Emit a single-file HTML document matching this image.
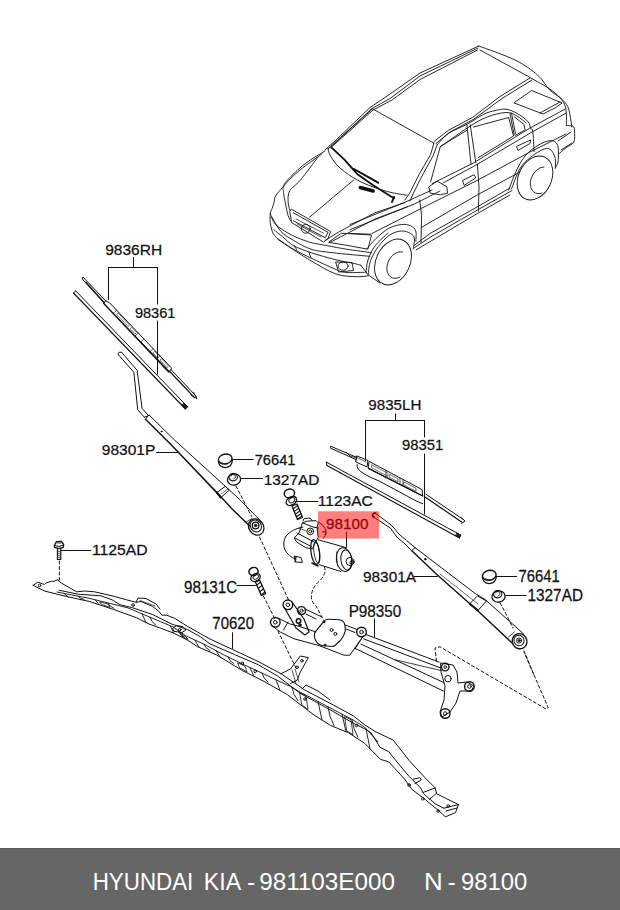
<!DOCTYPE html>
<html><head><meta charset="utf-8">
<style>
html,body{margin:0;padding:0;background:#fff;width:620px;height:910px;overflow:hidden}
svg{position:absolute;left:0;top:0}
.bar{position:absolute;left:0;top:848px;width:620px;height:62px;background:#666;border-top:1px solid #5c5c5c;box-sizing:border-box}
</style></head><body>
<div class="bar"></div>
<svg width="620" height="910" viewBox="0 0 620 910">
<g id="car" fill="none" stroke="#111" stroke-width="0.9" stroke-linejoin="round" stroke-linecap="round">
<path d="M325.0,150.0 L336.0,140.0 L370.0,107.5 L385.0,97.5 L420.0,73.0 L478.8,46.0"/>
<path d="M328.0,149.0 L372.0,108.5 L390.0,98.5 L420.0,76.0 L478.0,48.0"/>
<path d="M331.0,147.5 L373.0,110.0 L392.0,100.0 L420.0,79.5 L477.5,50.0"/>
<path d="M478.8,46.0 C484.8,48.3 505.2,55.2 515.0,60.0 C524.8,64.8 531.7,70.0 537.5,75.0 C543.3,80.0 545.9,86.1 549.8,90.0 C553.7,93.9 557.8,95.5 560.8,98.2 C563.8,101.0 566.1,103.3 567.7,106.5 C569.3,109.7 569.7,114.0 570.4,117.4 C571.1,120.8 571.6,125.4 571.8,127.0"/>
<path d="M480.0,50.0 C488.3,54.6 518.1,70.8 530.0,77.5 C541.9,84.2 545.6,85.9 551.2,90.0 C556.8,94.1 561.0,98.4 563.5,102.3 C566.0,106.2 565.8,109.4 566.3,113.3 C566.8,117.2 566.3,123.5 566.3,125.6"/>
<path d="M372.5,108.8 L433.9,143.2"/>
<path d="M372.5,108.8 L331.2,146.2"/>
<path d="M433.9,141.6 L448.4,130.3 L472.6,117.4 L500.0,96.5 L530.0,78.0"/>
<path d="M436.0,143.5 L450.0,132.0 L474.0,119.0 L502.0,98.5 L532.0,80.0"/>
<path d="M514.2,103.0 L543.0,114.0 L555.3,107.8 L562.2,103.0 L532.0,90.7 Z"/>
<path d="M540.0,113.0 L560.0,102.0"/>
<path d="M433.9,143.2 L430.6,154.5 L419.4,173.9 L409.7,193.2 L404.8,200.0"/>
<path d="M437.1,144.8 L433.0,156.0 L422.0,176.0 L413.0,194.0 L410.0,201.0"/>
<path d="M437.1,144.8 C439.0,142.9 443.3,137.0 448.4,133.5 C453.5,130.0 461.8,127.1 467.7,123.9 C473.6,120.7 479.3,116.4 483.9,114.2 C488.4,112.0 491.3,111.4 495.0,110.6 C498.7,109.8 502.4,108.8 506.0,109.2 C509.6,109.7 513.2,111.2 516.9,113.3 C520.5,115.3 525.6,119.0 527.9,121.5 C530.2,124.0 529.8,126.8 530.6,128.4 C531.4,130.0 532.1,127.2 532.7,131.1 C533.3,135.0 533.9,148.3 534.1,151.7"/>
<path d="M430.6,181.9 L440.3,146.5 L466.9,130.3"/>
<path d="M440.0,147.0 C444.7,143.8 460.2,132.5 468.0,127.5 C475.8,122.5 480.7,119.5 487.0,117.0 C493.3,114.5 501.0,112.7 506.0,112.5 C511.0,112.3 513.7,114.2 517.0,116.0 C520.3,117.8 524.5,121.8 526.0,123.0"/>
<path d="M466.9,124.7 L471.0,164.2"/>
<path d="M470.2,124.7 L475.8,162.6"/>
<path d="M473.5,127.0 L508.7,117.5 L513.5,136.0 L478.5,157.5"/>
<path d="M510.0,113.5 L514.2,135.0"/>
<path d="M511.5,113.0 L515.6,134.0"/>
<path d="M514.2,116.7 L523.8,124.3 L525.2,129.8 L515.6,135.3"/>
<path d="M432.3,183.5 L474.2,162.6 L500.0,146.5 L529.3,128.4 L564.9,109.2"/>
<path d="M443.0,183.0 L474.2,166.0 L500.0,151.0 L532.0,132.0 L566.3,113.0"/>
<path d="M429.0,186.8 L437.1,181.1 L446.8,186.8 L447.6,193.2 L440.3,194.8 L430.6,193.2 Z"/>
<path d="M462.9,180.3 L474.2,174.7 L475.8,177.9 L464.5,185.2 Z"/>
<path d="M516.9,146.2 L530.6,140.0 L530.0,143.5 L518.3,150.3 Z"/>
<path d="M419.7,200.0 L421.6,215.5 L421.0,242.6"/>
<path d="M477.4,164.2 L479.0,187.0 L478.4,211.3"/>
<path d="M350.0,224.5 L404.2,202.6 L432.0,190.0"/>
<path d="M350.0,229.7 L414.5,203.9 L440.0,191.0"/>
<path d="M371.9,233.5 L430.0,204.0 L478.0,180.0 L530.0,152.0 L566.0,134.0"/>
<path d="M421.0,227.7 L477.4,194.8 L520.0,172.0"/>
<path d="M414.5,247.7 L430.0,237.4 L477.4,210.0 L512.0,190.5"/>
<path d="M414.5,245.2 L430.0,233.5 L477.0,207.0 L510.0,188.0"/>
<path d="M416.0,250.0 L477.4,213.5 L510.0,195.0"/>
<path d="M566.3,125.6 C567.4,125.7 571.7,125.4 573.1,126.3 C574.5,127.2 574.4,128.5 574.5,131.1 C574.6,133.7 575.2,139.3 573.8,142.1 C572.4,144.8 568.9,145.5 566.3,147.6 C563.7,149.7 559.5,153.3 558.1,154.4"/>
<path d="M558.0,141.0 L571.0,132.0"/>
<path d="M561.0,150.0 L572.0,143.0"/>
<path d="M508.7,190.1 C509.9,187.1 512.9,178.0 515.6,172.3 C518.4,166.6 521.3,160.4 525.2,155.8 C529.1,151.2 534.8,147.3 538.9,144.8 C543.0,142.3 547.1,141.1 549.8,140.7 C552.5,140.2 553.9,140.9 555.3,142.1 C556.7,143.2 557.6,144.4 558.1,147.6 C558.6,150.8 558.6,157.9 558.1,161.3 C557.6,164.7 555.8,167.0 555.3,168.1"/>
<path d="M511.5,189.0 C512.9,185.7 516.5,174.3 519.7,169.0 C522.9,163.7 526.5,160.5 530.6,157.2 C534.7,153.8 541.0,150.1 544.4,148.9 C547.8,147.8 549.4,148.7 551.2,150.3 C553.0,151.9 554.6,155.5 555.3,158.5 C556.0,161.5 555.3,166.5 555.3,168.1"/>
<ellipse cx="535" cy="178" rx="16.5" ry="23" transform="rotate(25 535 178)"/>
<path d="M544,167 A10,14 25 1 0 542,193"/>
<path d="M325.0,151.0 C321.7,153.1 311.2,158.9 305.0,163.8 C298.8,168.6 291.2,176.1 287.5,180.0 C283.8,183.9 284.7,184.4 282.7,187.1 C280.7,189.8 277.1,193.3 275.6,196.0 C274.1,198.7 274.5,201.0 273.9,203.1 C273.3,205.2 272.7,206.6 272.1,208.4 C271.5,210.2 270.6,211.3 270.3,213.7 C270.0,216.1 269.9,219.3 270.3,222.6 C270.8,225.8 271.5,230.2 273.0,233.2 C274.5,236.1 278.2,239.1 279.2,240.3"/>
<path d="M322.0,154.0 C318.3,156.7 306.2,164.8 300.0,170.0 C293.8,175.2 287.2,181.6 284.5,185.3 C281.8,189.0 283.5,189.4 283.6,192.4 C283.8,195.4 284.6,199.2 285.4,203.1 C286.1,206.9 287.2,212.6 288.1,215.5 C289.0,218.4 290.3,219.9 290.7,220.8"/>
<path d="M318.0,157.0 C315.1,160.8 305.2,174.4 300.5,180.0 C295.8,185.6 291.9,187.0 289.8,190.6 C287.7,194.2 288.1,198.0 288.1,201.3 C288.1,204.6 289.5,208.7 289.8,210.2"/>
<path d="M328.1,148.1 C328.4,149.2 328.1,151.6 329.7,154.5 C331.3,157.4 333.9,162.0 337.7,165.8 C341.5,169.6 347.2,173.9 352.3,177.1 C357.4,180.3 362.5,182.8 368.4,185.2 C374.3,187.6 381.8,190.0 387.7,191.6 C393.6,193.2 400.7,194.2 403.9,194.8 C407.1,195.4 406.5,195.0 407.0,195.0"/>
<path d="M331.3,147.3 L344.2,159.4 L357.1,173.9 L373.2,185.2 L391.0,196.5 L394.2,198.1" stroke-width="1.8"/>
<path d="M353.9,169.0 L368.4,177.1 L378.1,182.7" stroke-width="2"/>
<path d="M360.3,187.5 L373.2,191.0" stroke-width="3.5"/>
<path d="M394.0,197.0 L392.0,202.0" stroke-width="2"/>
<path d="M291.6,209.3 L330.6,231.5 L328.0,238.6 L323.5,242.1 L291.6,222.6 L289.8,211.9 Z"/>
<path d="M293.4,212.8 L328.0,232.3 L325.3,237.7 L293.4,220.8"/>
<path d="M296.0,219.0 L323.5,233.2" stroke-width="0.7"/>
<path d="M297.0,224.0 L321.0,237.0" stroke-width="0.7"/>
<circle cx="305.8" cy="228.8" r="4.4"/>
<path d="M353.7,180.0 L309.4,217.3"/>
<path d="M325.3,240.3 L339.5,231.5 L375.0,212.8 L405.0,202.5"/>
<path d="M330.6,242.1 L375.0,219.0 L407.0,207.0"/>
<path d="M270.3,213.7 C271.2,215.5 272.1,220.8 275.6,224.4 C279.2,228.0 286.0,232.1 291.6,235.0 C297.2,237.9 303.5,240.3 309.4,242.1 C315.3,243.9 320.9,244.4 327.1,245.6 C333.3,246.8 339.2,248.0 346.6,249.2 C354.0,250.4 367.4,252.1 371.5,252.7"/>
<path d="M272.1,217.3 C273.6,219.7 277.4,227.7 281.0,231.5 C284.6,235.3 288.4,237.4 293.4,240.3 C298.4,243.2 304.6,247.1 311.1,249.2 C317.6,251.3 322.6,251.5 332.4,252.7 C342.2,253.9 363.5,255.7 369.7,256.3"/>
<path d="M273.9,229.7 C275.4,230.9 279.4,234.2 282.7,236.8 C285.9,239.5 288.7,242.9 293.4,245.6 C298.1,248.2 304.0,250.3 311.1,252.7 C318.2,255.1 328.9,258.0 336.0,259.8 C343.1,261.6 349.6,262.5 353.7,263.4 C357.8,264.3 359.6,264.9 360.8,265.2"/>
<path d="M277.4,238.6 C280.1,240.4 287.8,245.9 293.4,249.2 C299.0,252.4 304.3,254.9 311.1,258.1 C317.9,261.4 328.6,266.3 334.2,268.7 C339.8,271.1 339.8,271.7 344.8,272.3 C349.8,272.9 361.1,272.3 364.4,272.3"/>
<path d="M279.2,240.3 C284.2,243.6 299.9,254.2 309.4,259.8 C318.9,265.4 328.0,271.2 336.0,274.0 C344.0,276.8 352.0,276.4 357.3,276.7 C362.6,277.0 366.1,275.9 367.9,275.8"/>
<path d="M294.0,245.5 L297.0,250.0"/>
<path d="M309.0,252.5 L311.0,258.0"/>
<ellipse cx="343.1" cy="266.1" rx="5" ry="4.2"/>
<path d="M336.0,262.0 L352.0,262.5 L353.5,270.5 L339.0,272.0 Z"/>
<path d="M328.9,242.1 L341.3,233.2 L371.5,235.0 L367.9,249.2 L348.4,245.6 Z"/>
<path d="M350.0,233.5 L370.6,234.2"/>
<path d="M366.8,249.0 C368.3,247.3 372.2,242.1 375.8,238.7 C379.4,235.3 384.4,230.8 388.7,228.4 C393.0,226.0 398.0,224.9 401.6,224.5 C405.2,224.1 408.2,224.7 410.6,225.8 C413.0,226.9 414.9,228.4 415.8,231.0 C416.7,233.6 415.8,239.6 415.8,241.3"/>
<path d="M368.1,274.8 C368.5,272.4 368.9,265.3 370.6,260.6 C372.3,255.9 375.2,250.8 378.4,246.5 C381.6,242.2 386.1,237.4 390.0,234.8 C393.9,232.2 398.2,231.2 401.6,231.0 C405.0,230.8 408.5,232.2 410.6,233.5 C412.8,234.8 414.1,236.1 414.5,238.7 C414.9,241.3 413.4,247.3 413.2,249.0"/>
<path d="M366.0,273.0 C366.3,270.8 366.5,264.5 368.0,260.0 C369.5,255.5 371.7,250.5 375.0,246.0 C378.3,241.5 385.8,235.2 388.0,233.0"/>
<ellipse cx="393" cy="262" rx="17" ry="24" transform="rotate(25 393 262)"/>
<path d="M402.5,252 A10,14 25 1 0 400,277"/>
<path d="M360.8,265.2 L368.0,274.8 L380.0,283.0"/>
</g>
<g fill="none" stroke="#111" stroke-width="1" stroke-linejoin="round" stroke-linecap="round">
<path d="M83.4,277.5 L105.8,301.1"/>
<path d="M83.1,280.1 L104.4,302.5"/>
<path d="M83.4,277.5 L82.1,277.6 L83.1,280.1"/>
<path d="M85.8,282.2 L104.1,302.8" stroke-width="1.4"/>
<path d="M106.0,301.0 L109.7,302.9 L171.5,368.0 L171.0,369.8 L169.4,371.3 L104.0,303.8 Z"/>
<path d="M104.0,303.8 L168.7,372.0" stroke-width="1.3"/>
<path d="M116.6,310.2 L113.1,313.5" stroke-width="0.7"/>
<path d="M138.3,333.0 L134.8,336.3" stroke-width="0.7"/>
<path d="M144.0,339.1 L140.5,342.4" stroke-width="0.7"/>
<path d="M153.2,348.7 L149.7,352.0" stroke-width="0.7"/>
<path d="M160.0,355.9 L156.5,359.2" stroke-width="0.7"/>
<path d="M118.3,313.1 L129.7,325.2 L128.2,326.6 L116.8,314.6 Z" stroke-width="0.6"/>
<path d="M132.0,327.6 L136.6,332.4 L135.1,333.8 L130.5,329.0 Z" stroke-width="0.6"/>
<path d="M154.9,351.7 L158.3,355.3 L156.8,356.7 L153.3,353.1 Z" stroke-width="0.6"/>
<path d="M161.7,358.9 L168.6,366.1 L167.1,367.6 L160.2,360.3 Z" stroke-width="0.6"/>
<path d="M171.1,369.7 L196.1,396.1"/>
<path d="M169.5,371.3 L194.5,397.6" stroke-width="1.3"/>
<path d="M193.7,392.6 L197.0,398.7 L191.1,395.1" stroke-width="1"/>
<path d="M75.7,290.9 L187.7,406.9"/>
<path d="M73.5,293.0 L185.5,409.0" stroke-width="1.1"/>
<path d="M75.7,290.9 L73.5,293.0"/>
<path d="M184.3,403.4 L187.7,406.9 L185.5,409.0 L182.1,405.5 Z" fill="#222"/>
<path d="M118.4,354.8 L133.9,372.3 L137.7,409.7 L144.5,417.3"/>
<path d="M121.6,352.3 L137.1,370.3 L142.1,408.5 L148.4,415.3"/>
<path d="M118.4,354.8 Q117,351.5 121.6,352.3"/>
<path d="M144.5,417.3 L149.4,415.3"/>
<path d="M145.5,419.2 L148.4,415.3"/>
<path d="M149.4,415.3 L174.5,440.0 L225.3,486.3 L240.0,499.8 L261.5,521.9"/>
<path d="M145.5,419.2 L170.0,443.4 L217.4,493.1 L232.1,508.9 L250.2,526.5" stroke-width="1.4"/>
<path d="M150.0,424.0 L177.9,452.0 L218.0,495.0" stroke-width="0.6"/>
<circle cx="161.5" cy="431.5" r="0.5" fill="#222"/>
<path d="M216.9,492.5 L225.3,486.3 L229.3,490.2 L220.8,497.6 Z"/>
<path d="M216.9,492.5 L220.8,497.6" stroke-width="2"/>
<path d="M221.0,494.0 L228.0,489.0" stroke-width="0.6"/>
<ellipse cx="256.2" cy="527" rx="7.3" ry="8.6" transform="rotate(-35 256.2 527)" stroke-width="1.3"/>
<ellipse cx="255.8" cy="526" rx="5.4" ry="6.2" transform="rotate(-35 255.8 526)"/>
<circle cx="255.6" cy="525.5" r="3.3" stroke-width="1.3"/>
<circle cx="255.6" cy="525.5" r="1.2" fill="#111"/>
<path d="M245.0,522.6 L251.8,518.7" stroke-width="0.8"/>
<ellipse cx="225.2" cy="459" rx="6.9" ry="4.9" transform="rotate(-12 225.2 459)" stroke-width="1.4"/>
<path d="M218.4,461 Q219,467.5 225.5,467.6 Q232,467 232.4,460" stroke-width="1.3"/>
<path d="M221,462.5 Q224,464.5 227,464" stroke-width="0.8"/>
<ellipse cx="234" cy="479.5" rx="6.6" ry="5.6" transform="rotate(-10 234 479.5)" stroke-width="1.3"/>
<ellipse cx="233.2" cy="477.2" rx="4.2" ry="3.6" transform="rotate(-10 233.2 477.2)" stroke-width="1.1"/>
<path d="M231.0,476.0 L232.5,474.5 L235.0,475.0 L235.5,477.5 L233.5,479.0" stroke-width="0.8"/>
<path d="M236,486 L251.8,516.8" stroke-dasharray="3,2.5"/>
<path d="M156.5,452.5 L177.9,452.5"/>
<path d="M232.5,459.5 L253.3,459.5"/>
<path d="M240.8,478.5 L262.6,478.5"/>
<path d="M330.8,446.3 L357.0,457.5"/>
<path d="M330.8,448.3 L357.0,460.0"/>
<path d="M330.8,446.3 Q329.5,447.3 330.8,448.3"/>
<path d="M357.0,456.0 L368.0,460.5 L367.0,467.0 L356.0,462.0 Z"/>
<path d="M358.0,458.0 L366.0,462.0" stroke-width="0.7"/>
<path d="M346.0,452.0 L350.0,456.0 L357.0,458.0" stroke-width="0.8"/>
<path d="M369.5,461.6 L422.1,489.6 L422.7,496.0 L368.5,468.4 Z"/>
<path d="M368.5,468.4 L422.7,496.0" stroke-width="1.3"/>
<path d="M372.0,464.9 L388.0,473.4 L388.0,476.4 L372.0,467.9 Z" stroke-width="0.6"/>
<path d="M390.0,474.5 L398.0,478.8 L398.0,481.8 L390.0,477.5 Z" stroke-width="0.6"/>
<path d="M404.0,482.0 L416.0,488.3 L416.0,491.3 L404.0,485.0 Z" stroke-width="0.6"/>
<path d="M386.0,470.4 L386.0,477.3" stroke-width="0.7"/>
<path d="M400.0,477.8 L400.0,484.5" stroke-width="0.7"/>
<path d="M403.0,479.4 L403.0,486.0" stroke-width="0.7"/>
<path d="M357,464.5 Q356,469.4 364.7,474.2 Q370,477.5 379.2,481 L415,500.3 Q419,502.5 422.7,503.7"/>
<path d="M426.0,494.3 L463.4,519.5"/>
<path d="M425.0,497.0 L462.0,522.2" stroke-width="1.2"/>
<path d="M461.0,517.5 L465.0,521.0 L461.5,523.5" stroke-width="1"/>
<path d="M326.3,462.1 L460.8,535.1"/>
<path d="M327.0,465.5 L459.5,538.0" stroke-width="1.1"/>
<path d="M326.3,462.1 L327.0,465.5"/>
<path d="M457.0,533.2 L460.8,535.1 L459.5,538.0 L456.0,536.0 Z" fill="#222"/>
<path d="M395.5,413.8 L395.5,420.5"/>
<path d="M365.5,420.5 L424.5,420.5"/>
<path d="M365.5,420.5 L365.5,460.8"/>
<path d="M424.5,420.5 L424.5,437.0"/>
<path d="M424.5,454.0 L424.5,514.0"/>
<path d="M133.5,257.5 L133.5,267.5"/>
<path d="M108.5,267.5 L157.5,267.5"/>
<path d="M108.5,267.5 L108.5,299.7"/>
<path d="M157.5,267.4 L157.5,304.0"/>
<path d="M157.5,321.0 L157.5,374.0"/>
<path d="M374.1,517.3 L390.6,528.3 L397.6,537.9 L404.0,543.1 L411.8,550.8"/>
<path d="M375.5,513.2 L391.9,525.6 L398.9,534.0 L406.6,540.5 L415.0,547.6"/>
<path d="M375.5,513.2 Q371.5,513 373,516.5 L374.1,517.3" stroke-width="1.8"/>
<path d="M411.8,550.8 L415.0,547.6"/>
<path d="M415.0,547.6 L475.0,593.4 L485.2,599.6 L523.6,633.9"/>
<path d="M411.8,550.8 L436.3,574.0 L469.8,603.7 L476.9,610.0 L512.6,643.5" stroke-width="1.4"/>
<path d="M440.0,574.0 L478.0,604.0" stroke-width="0.6"/>
<circle cx="425.3" cy="559.2" r="0.8" fill="#222"/>
<path d="M469.8,603.7 L477.5,596.0 L486.5,601.0 L478.0,610.5 Z"/>
<path d="M469.8,603.7 L478.0,610.5" stroke-width="1.8"/>
<ellipse cx="519.6" cy="641.2" rx="7.3" ry="7.7" transform="rotate(-30 519.6 641.2)" stroke-width="1.4"/>
<ellipse cx="519" cy="640.5" rx="5" ry="5.3" transform="rotate(-30 519 640.5)"/>
<circle cx="519" cy="640.5" r="2.6"/>
<circle cx="519" cy="640.5" r="1" fill="#111"/>
<path d="M508.5,637.0 L514.5,632.0" stroke-width="0.8"/>
<ellipse cx="489.3" cy="575.3" rx="6.9" ry="4.9" transform="rotate(-12 489.3 575.3)" stroke-width="1.4"/>
<path d="M482.5,577.3 Q483,583.5 489.6,583.6 Q496,583 496.4,576.3" stroke-width="1.3"/>
<path d="M485,578.5 Q488,580.5 491,580" stroke-width="0.8"/>
<ellipse cx="498.5" cy="596.5" rx="6.6" ry="5.6" transform="rotate(-10 498.5 596.5)" stroke-width="1.3"/>
<ellipse cx="497.7" cy="594.2" rx="4.2" ry="3.6" transform="rotate(-10 497.7 594.2)" stroke-width="1.1"/>
<path d="M495.5,593.0 L497.0,591.5 L499.5,592.0 L500.0,594.5 L498.0,596.0" stroke-width="0.8"/>
<path d="M500,603 L505,612 L513,628" stroke-dasharray="3,2.5"/>
<path d="M524,651 L534,675" stroke-dasharray="3,2.5"/>
<path d="M413.9,576.5 L437.2,576.5"/>
<path d="M496.1,576.5 L516.7,576.5"/>
<path d="M505.7,595.5 L526.3,595.5"/>
<path d="M294.5,537.6 L299.0,533.1 L302.4,522.9 L306.9,521.2 L316.0,520.6 L318.2,522.9 L317.1,527.4 L318.2,537.6 L314.8,543.2 L312.6,548.9 L305.8,547.7 L296.8,542.1 Z"/>
<circle cx="310.3" cy="531.4" r="3.4"/>
<circle cx="310.3" cy="531.4" r="1.5"/>
<path d="M297.0,533.0 L316.0,543.0"/>
<path d="M295.0,538.0 L312.0,547.0"/>
<path d="M303.0,523.0 L313.0,527.0 L318.0,528.0"/>
<path d="M299.0,528.0 L306.0,531.0" stroke-width="0.7"/>
<path d="M303.0,521.0 L304.0,518.5 L310.0,518.0 L312.0,520.5"/>
<path d="M318.2,539.8 L346.5,547.7"/>
<path d="M319.4,564.7 L340.8,571.5"/>
<ellipse cx="315.2" cy="552" rx="4.2" ry="12.5" transform="rotate(-8 315.2 552)" stroke-width="1.2"/>
<ellipse cx="316.8" cy="552.5" rx="2.8" ry="10.8" transform="rotate(-8 316.8 552.5)" stroke-width="0.8"/>
<path d="M312.0,563.0 L318.0,566.0" stroke-width="1.6"/>
<ellipse cx="344" cy="559.6" rx="7.6" ry="11.9" transform="rotate(-8 344 559.6)"/>
<ellipse cx="346.5" cy="560" rx="5.6" ry="10" transform="rotate(-8 346.5 560)"/>
<circle cx="350" cy="561.5" r="4"/>
<circle cx="352" cy="562.5" r="2"/>
<path d="M336.5,552.0 L337.5,566.0" stroke-width="0.6"/>
<path d="M303,527 Q292,529 286,536 Q282,543 285,550 Q288,556 296,559.5"/>
<path d="M294.5,556.2 L301.0,557.5 L302.4,562.4 L296.0,562.0 Z"/>
<path d="M296.0,557.0 L295.0,562.0" stroke-width="1.2"/>
<path d="M324.4,567 Q327,573 320,580.5 Q313,586 311.3,595 Q311,602 316,606 L323.7,620.3" stroke-dasharray="3,2.5"/>
<path d="M346.5,532.0 L346.5,547.2"/>
<ellipse cx="289.4" cy="493.4" rx="5.2" ry="4.3" transform="rotate(-10 289.4 493.4)" stroke-width="1.5"/>
<ellipse cx="291.4" cy="501" rx="5.6" ry="4.0" transform="rotate(-30 291.4 501)" stroke-width="1.4"/>
<ellipse cx="291.8" cy="500.2" rx="3.2" ry="2.4" transform="rotate(-30 291.8 500.2)" stroke-width="0.9"/>
<path d="M292.0,506.0 L297.5,519.5 L302.5,517.5 L297.0,504.0 Z" stroke-width="1.3"/>
<path d="M297.7,505.6 L293.1,508.7" stroke-width="1.1"/>
<path d="M298.8,508.3 L294.2,511.4" stroke-width="1.1"/>
<path d="M299.9,511.0 L295.3,514.1" stroke-width="1.1"/>
<path d="M301.0,513.7 L296.4,516.8" stroke-width="1.1"/>
<path d="M302.0,516.1 L297.4,519.2" stroke-width="1.1"/>
<path d="M295.6,501.5 L317.7,501.5"/>
<path d="M54.5,545.0 L56.5,541.6 L61.3,541.4 L63.7,544.5 L63.2,547.4 L59.0,548.6 L54.5,547.4 Z" stroke-width="1.3"/>
<path d="M55.0,545.5 L59.0,546.5 L63.5,545.0" stroke-width="1"/>
<path d="M57.0,543.0 L61.0,543.0" stroke-width="0.8"/>
<path d="M57.4,548.4 L57.4,559.5 L60.8,559.5 L60.8,548.4" stroke-width="1.1"/>
<path d="M57.4,551.0 L60.8,552.2" stroke-width="0.7"/>
<path d="M57.4,553.0 L60.8,554.2" stroke-width="0.7"/>
<path d="M57.4,555.0 L60.8,556.2" stroke-width="0.7"/>
<path d="M57.4,557.0 L60.8,558.2" stroke-width="0.7"/>
<path d="M59.4,561 L59.4,580" stroke-dasharray="3,2.5"/>
<path d="M60.8,550.5 L90.8,550.5"/>
<ellipse cx="253.5" cy="571.5" rx="4.6" ry="4.0" transform="rotate(-20 253.5 571.5)" stroke-width="1.5"/>
<ellipse cx="255.5" cy="577.5" rx="5.0" ry="3.5" transform="rotate(-30 255.5 577.5)" stroke-width="1.4"/>
<ellipse cx="255.8" cy="577" rx="2.8" ry="2.0" transform="rotate(-30 255.8 577)" stroke-width="0.9"/>
<path d="M255.4,581.9 L261.4,595.4 L265.6,593.6 L259.6,580.1 Z" stroke-width="1.3"/>
<path d="M260.5,582.1 L256.8,585.0" stroke-width="1.1"/>
<path d="M262.0,585.5 L258.3,588.4" stroke-width="1.1"/>
<path d="M263.5,588.8 L259.8,591.8" stroke-width="1.1"/>
<path d="M264.9,591.9 L261.2,594.9" stroke-width="1.1"/>
<path d="M263.3,596 L275.2,619.4" stroke-dasharray="3,2.5"/>
<path d="M259.5,537 L288.7,600.2" stroke-dasharray="3,2.5"/>
<path d="M237.0,585.5 L255.4,585.5"/>
<circle cx="275.3" cy="622.3" r="4.8" stroke-width="1.4"/>
<circle cx="275.3" cy="622.3" r="1.8"/>
<circle cx="287.9" cy="604.8" r="4.8" stroke-width="1.4"/>
<circle cx="287.9" cy="604.8" r="1.8"/>
<circle cx="301.5" cy="610.6" r="4" stroke-width="1.4"/>
<circle cx="301.5" cy="610.6" r="1.5"/>
<circle cx="361.5" cy="632" r="4.8" stroke-width="1.4"/>
<circle cx="361.5" cy="632" r="1.8"/>
<path d="M271.5,625.2 L280.2,632.0 L293.7,638.7 L318.9,645.5 L344.0,655.2 L349.8,655.2 L363.4,635.8"/>
<path d="M278.0,618.0 L290.0,624.0 L298.0,626.0 L316.0,632.0"/>
<path d="M283.5,630.0 L288.0,622.0"/>
<path d="M284.0,607.0 L296.0,628.0 L305.0,635.0 L309.0,632.0 L304.0,619.0 L292.0,602.0" stroke-width="1.2"/>
<circle cx="298.5" cy="621" r="2.2" stroke-width="1.6"/>
<circle cx="300" cy="625" r="1.2" fill="#111"/>
<path d="M323.4,621.9 Q325,619 330,619.2 L339.4,619.7 Q345,620.5 345.2,627 L345.2,631.3 Q344,636 340.8,640 L335,645.5 Q333.5,646.8 330,646.3 L323.4,645.8 Q318,645 315.4,640 Q313.5,636 314.7,632.7 Z" stroke-width="1.1"/>
<circle cx="331.5" cy="630" r="1.5"/>
<circle cx="335.3" cy="633.9" r="1.5"/>
<circle cx="324" cy="622" r="0.9" fill="#222"/>
<circle cx="325" cy="645" r="0.9" fill="#222"/>
<path d="M305.0,609.0 L322.0,617.0"/>
<path d="M306.0,614.0 L316.0,619.0"/>
<path d="M345.0,625.0 L357.0,629.5"/>
<path d="M346.0,629.0 L355.0,632.5"/>
<path d="M365.9,634.5 L439.2,662.1"/>
<path d="M363.7,638.9 L440.6,667.9"/>
<path d="M360.8,644.0 L443.5,682.4"/>
<path d="M355.0,648.3 L443.5,691.1"/>
<path d="M395.6,659.9 L442.1,670.8" stroke-width="0.8"/>
<path d="M362.3,637.4 L355.0,649.0"/>
<path d="M374.5,618.8 L374.5,636.6"/>
<path d="M441.0,663.0 L453.0,665.0 L457.0,672.0 L458.0,683.0 L467.0,682.0 L474.0,686.0 L471.0,691.0 L460.0,691.0 L456.0,703.0 L450.0,712.0 L442.0,717.0 L440.0,712.0 L444.0,700.0 L445.0,686.0 L441.0,672.0 Z"/>
<circle cx="445.2" cy="667.1" r="3.8" stroke-width="1.4"/>
<circle cx="445.2" cy="667.1" r="1.4"/>
<circle cx="448" cy="678.7" r="3.2"/>
<circle cx="469.4" cy="686.5" r="4.8" stroke-width="1.4"/>
<circle cx="469.4" cy="686.5" r="1.8"/>
<circle cx="445.2" cy="713.5" r="4.8" stroke-width="1.4"/>
<circle cx="445.2" cy="713.5" r="1.8"/>
<path d="M436.5,661 L435,648 L440,646.8 L545.8,708.9 L548.2,707.7 L524,652" stroke-dasharray="3,2.5"/>
<path d="M278,631 L296,668" stroke-dasharray="3,2.5"/>
<path d="M281.0,673.7 L290.6,668.9 L300.3,656.0 L308.4,657.6 L300.3,672.1 L297.1,680.2 L290.6,683.4"/>
<circle cx="301.9" cy="660.8" r="1.3"/>
<circle cx="297.1" cy="667.3" r="1.3"/>
<path d="M292.0,670.0 L296.0,684.0" stroke-width="0.7"/>
<path d="M295.0,669.0 L299.0,682.0" stroke-width="0.7"/>
<path d="M33.1,585.3 L37.9,582.1 L44.4,584.5 L46.0,582.9 L51.6,581.3 L54.0,581.3 L58.1,579.7 L59.7,582.1 L76.6,591.8 L84.7,591.0 L94.4,591.8 L112.1,595.8 L126.5,599.8 L136.1,602.3 L141.0,601.5 L152.3,606.3 L158.7,611.1 L161.9,615.2 L166.8,615.2 L174.8,618.4 L187.7,626.5 L200.6,633.7 L210.0,639.0 L232.6,649.5 L258.4,661.6 L281.0,673.7 L304.8,690.0 L333.9,705.3 L353.2,715.8 L364.5,724.7 L375.8,731.9 L393.1,740.0 L409.0,760.3 L425.0,777.7 L435.2,787.9 L436.6,793.7 L458.4,804.6"/>
<path d="M58.9,590.2 L78.2,594.2 L100.8,595.8 L112.1,599.8 L120.0,604.7 L132.9,607.9 L152.3,614.4 L171.6,624.0 L187.7,629.7 L200.6,636.9 L210.0,643.9 L234.2,654.4 L258.4,664.8 L277.7,676.1 L300.0,693.2 L332.3,711.0 L353.2,723.1 L364.5,728.7 L371.0,732.7 L380.0,747.3 L388.7,751.6 L394.5,758.9 L409.0,776.3 L420.6,787.9 L423.5,793.7 L435.2,803.9 L443.9,808.2"/>
<path d="M33.1,585.3 L44.4,591.0 L57.3,594.2 L66.9,596.6 L89.5,601.5 L113.7,609.5 L136.1,617.6 L149.0,624.0 L160.3,628.1 L173.2,632.9 L187.7,640.2 L197.4,646.6 L216.8,655.0 L242.3,670.5 L264.8,681.8 L287.4,694.7 L312.9,714.2 L330.6,725.5 L348.4,732.7 L364.5,743.2 L380.6,759.4 L388.7,761.8 L404.7,779.2 L411.9,789.4 L423.5,798.1 L441.0,812.6 L445.3,816.9 L455.5,812.6 L458.4,804.6"/>
<path d="M57.0,592.0 L90.0,598.5 L128.0,607.9 L160.3,621.6 L172.9,626.8 L185.8,635.8 L205.2,644.8 L221.9,653.9 L240.0,662.9 L263.2,673.7 L290.6,686.6 L300.0,692.0 L332.3,709.0 L353.2,720.0 L364.5,727.0 L378.0,742.0" stroke-width="0.9"/>
<path d="M64.0,593.4 L68.0,596.8" stroke-width="0.9"/>
<path d="M78.0,596.1 L80.0,598.0 L84.0,599.4" stroke-width="0.9"/>
<path d="M95.0,599.7 L99.0,604.6" stroke-width="0.9"/>
<path d="M108.0,603.0 L110.0,605.9 L114.0,608.4" stroke-width="0.9"/>
<path d="M142.0,613.8 L146.0,622.5" stroke-width="0.9"/>
<path d="M150.0,617.2 L152.0,621.5 L156.0,625.3" stroke-width="0.9"/>
<path d="M170.0,625.6 L174.0,633.3" stroke-width="0.9"/>
<path d="M178.0,630.4 L180.0,633.8 L184.0,636.8" stroke-width="0.9"/>
<path d="M195.0,640.1 L199.0,647.3" stroke-width="0.9"/>
<path d="M204.0,644.2 L206.0,647.7 L210.0,650.7" stroke-width="0.9"/>
<path d="M216.0,650.7 L220.0,656.9" stroke-width="0.9"/>
<path d="M228.0,656.9 L230.0,660.6 L234.0,663.7" stroke-width="0.9"/>
<path d="M250.0,667.6 L254.0,676.4" stroke-width="0.9"/>
<path d="M262.0,673.1 L264.0,677.8 L268.0,682.0" stroke-width="0.9"/>
<path d="M276.0,679.7 L280.0,690.5" stroke-width="0.9"/>
<path d="M292.0,687.4 L294.0,694.3 L298.0,700.8" stroke-width="0.9"/>
<path d="M318.0,701.5 L322.0,720.0" stroke-width="0.9"/>
<path d="M328.0,706.7 L330.0,716.4 L334.0,725.6" stroke-width="0.9"/>
<path d="M342.0,714.1 L346.0,731.7" stroke-width="0.9"/>
<path d="M352.0,719.4 L354.0,728.5 L358.0,737.2" stroke-width="0.9"/>
<path d="M366.0,728.7 L370.0,748.7" stroke-width="0.9"/>
<path d="M100.0,602.0 L108.0,604.0 L110.0,607.3 L102.0,604.6 Z" stroke-width="0.8"/>
<path d="M180.0,632.8 L186.0,636.9 L188.0,639.4 L182.0,636.3 Z" stroke-width="0.8"/>
<path d="M238.0,662.9 L245.0,666.2 L247.0,671.9 L240.0,668.1 Z" stroke-width="0.8"/>
<path d="M300.0,693.0 L306.0,696.2 L308.0,709.5 L302.0,704.9 Z" stroke-width="0.8"/>
<path d="M345.0,716.7 L351.0,719.8 L353.0,734.7 L347.0,731.1 Z" stroke-width="0.8"/>
<path d="M172.9,628.1 L176.8,625.5 L183.2,626.8 L185.8,630.0 L181.9,632.6 L174.2,631.3 Z"/>
<circle cx="39.5" cy="585.5" r="1.3"/>
<circle cx="133" cy="605" r="1.3"/>
<circle cx="179.7" cy="629.7" r="1.3"/>
<circle cx="242.3" cy="663.2" r="1.3"/>
<circle cx="255.2" cy="671.3" r="1.3"/>
<circle cx="305" cy="699" r="1.3"/>
<circle cx="356.5" cy="725.5" r="1.3"/>
<circle cx="409" cy="785" r="1.3"/>
<circle cx="422.8" cy="798.8" r="1.3"/>
<circle cx="438.1" cy="811.1" r="1.3"/>
<circle cx="448.2" cy="806" r="1.3"/>
<path d="M136.1,602.3 L138.0,598.0 L146.0,598.5 L156.0,604.0 L160.0,609.0"/>
<path d="M140.0,600.5 L155.0,606.0" stroke-width="0.7"/>
<path d="M302.0,689.0 L306.0,685.0 L318.0,691.0 L330.0,700.0"/>
<path d="M413.4,779.2 L419.9,777.7 L421.4,779.9 L414.8,783.5"/>
<path d="M423.5,792.3 L435.2,787.9"/>
<path d="M429.4,799.5 L435.9,793.7"/>
<path d="M443.9,808.2 L458.4,804.6"/>
<path d="M446.0,811.0 L457.0,808.0"/>
<path d="M232.5,632.7 L232.5,648.5"/>
</g>
<g font-family="Liberation Sans, sans-serif" stroke="#111" stroke-width="0.25"><text transform="translate(105.17,254.55) scale(1.0201,1)" font-size="15.25" fill="#111">9836RH</text><text transform="translate(134.91,317.55) scale(0.9571,1)" font-size="15.25" fill="#111">98361</text><text transform="translate(101.77,455.10) scale(1.0229,1)" font-size="15.18" fill="#111">98301P</text><text transform="translate(254.65,465.35) scale(0.9634,1)" font-size="15.25" fill="#111">76641</text><text transform="translate(263.63,485.15) scale(1.0032,1)" font-size="15.40" fill="#111">1327AD</text><text transform="translate(317.82,505.85) scale(1.0394,1)" font-size="14.97" fill="#111">1123AC</text><text transform="translate(368.29,410.05) scale(1.0133,1)" font-size="14.97" fill="#111">9835LH</text><text transform="translate(402.10,450.05) scale(1.0020,1)" font-size="14.83" fill="#111">98351</text><text transform="translate(91.90,555.05) scale(1.0424,1)" font-size="15.11" fill="#111">1125AD</text><text transform="translate(183.98,592.54) scale(0.9366,1)" font-size="16.24" fill="#111">98131C</text><text transform="translate(212.33,628.74) scale(0.9406,1)" font-size="15.96" fill="#111">70620</text><text transform="translate(362.98,582.04) scale(0.9904,1)" font-size="15.54" fill="#111">98301A</text><text transform="translate(348.65,617.14) scale(0.9567,1)" font-size="15.96" fill="#111">P98350</text><text transform="translate(518.54,582.04) scale(0.9196,1)" font-size="16.10" fill="#111">76641</text><text transform="translate(527.53,600.74) scale(0.9374,1)" font-size="16.38" fill="#111">1327AD</text></g>
<path d="M318.2,521.8 Q324,525 326,530 Q327,535 323,538.5 M322,532 L326,531.5 L325,535" fill="none" stroke="#111" stroke-width="1"/>
<text transform="translate(325.98,529.35) scale(1.0382,1)" font-size="14.69" fill="#111" font-family="Liberation Sans, sans-serif" stroke="#111" stroke-width="0.25">98100</text>
<rect x="318" y="511.3" width="61" height="27.3" fill="#ff0000" fill-opacity="0.5"/>

<g font-family="Liberation Sans, sans-serif"><text transform="translate(92.67,889.50) scale(0.9321,1)" font-size="24" fill="#fff">HYUNDAI</text><text transform="translate(203.81,889.50) scale(0.9626,1)" font-size="24" fill="#fff">KIA</text><text transform="translate(247.02,889.50) scale(1.0204,1)" font-size="24" fill="#fff">-</text><text transform="translate(259.16,889.50) scale(1.0122,1)" font-size="24" fill="#fff">981103E000</text><text transform="translate(424.12,889.50) scale(1.0808,1)" font-size="24" fill="#fff">N</text><text transform="translate(447.72,889.50) scale(0.9779,1)" font-size="24" fill="#fff">-</text><text transform="translate(460.88,889.50) scale(0.9934,1)" font-size="24" fill="#fff">98100</text></g>
</svg>
</body></html>
